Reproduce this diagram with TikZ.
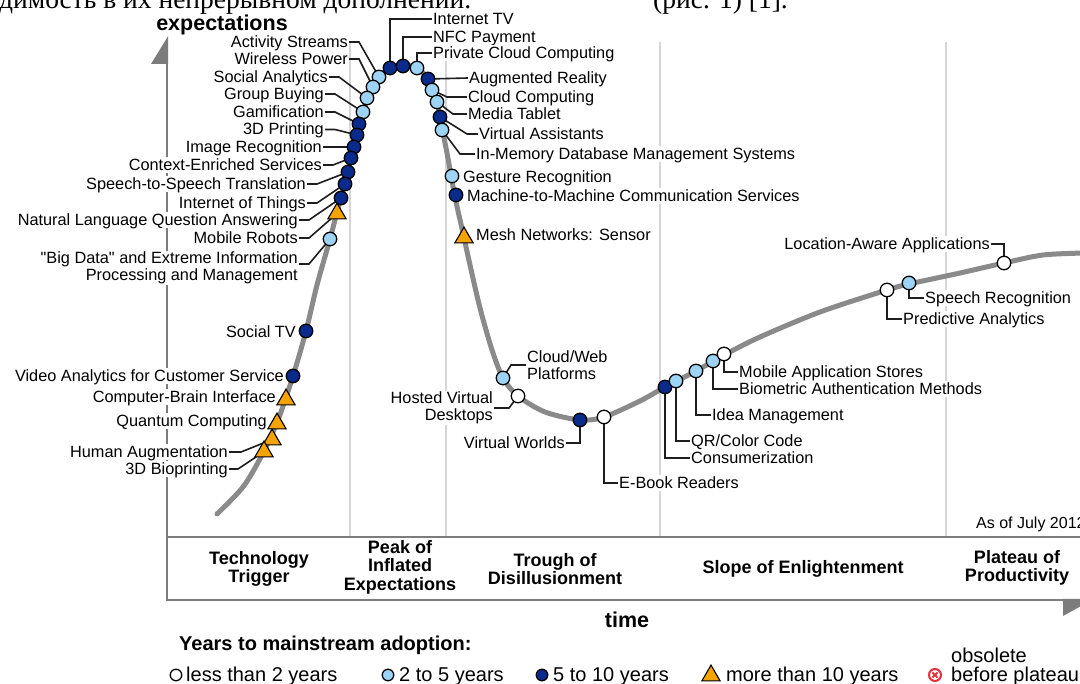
\documentclass[tikz,border=0pt]{standalone}
\usepackage{fontspec}
\setmainfont{Liberation Sans}
\newfontfamily\rufont{Liberation Serif}
\usetikzlibrary{shapes.geometric}
\definecolor{lblue}{HTML}{9DD4F5}
\definecolor{dblue}{HTML}{0B2B8C}
\definecolor{orng}{HTML}{F5A300}
\definecolor{obsred}{HTML}{E8303A}
\definecolor{curvec}{HTML}{8A8A8A}
\definecolor{axisc}{HTML}{7C7C7C}
\definecolor{sepc}{HTML}{D6D6D6}
\definecolor{leadc}{HTML}{1E1E1E}
\pgfdeclarelayer{back}
\pgfdeclarelayer{bg}
\pgfdeclarelayer{mid}
\pgfsetlayers{back,bg,mid,main}
\begin{document}
\begin{tikzpicture}[x=1pt,y=-1pt,
  lbl/.style={font=\fontsize{16.3}{17.5}\selectfont, inner sep=1pt, fill=white, text=black},
  lb/.style={lbl, text height=12pt, text depth=1.5pt},
  mk/.style={circle, draw=black, line width=1.3pt, minimum size=13.5pt, inner sep=0pt},
  mW/.style={mk, fill=white}, mL/.style={mk, fill=lblue}, mD/.style={mk, fill=dblue},
  mT/.style={regular polygon, regular polygon sides=3, draw=black, line width=1.1pt, fill=orng, minimum size=21pt, inner sep=0pt, yshift=-2.6pt},
  ldr/.style={draw=leadc, line width=1.6pt},
  phase/.style={font=\bfseries\fontsize{18}{18.5}\selectfont, align=center, inner sep=0pt},
  big/.style={font=\bfseries\fontsize{21.5}{24}\selectfont, inner sep=0pt},
  leg/.style={font=\fontsize{20}{22}\selectfont, inner sep=0pt, anchor=west, text height=14pt, text depth=2pt},
  sepline/.style={draw=sepc, line width=2.5pt},
  axisline/.style={draw=axisc, line width=2.5pt},
  hypecurve/.style={draw=curvec, line width=5pt, line cap=round, line join=round},
  rutext/.style={font=\rufont\fontsize{27.5}{30}\selectfont, inner sep=0pt, anchor=base west}
]
\useasboundingbox (0,0) rectangle (1080,684);
\begin{pgfonlayer}{back}
  \fill[white] (0,0) rectangle (1080,684);
\end{pgfonlayer}

% clipped caption fragment at the top
\node[rutext] (ru1) at (-1,9) {димость в их непрерывном дополнении.};
\node[rutext] (ru2) at (653,9) {(рис. 1) [1].};

\begin{pgfonlayer}{bg}
  \foreach \sx in {350,446,660,946} \draw[sepline] (\sx,42) -- (\sx,537);
  \draw[axisline] (167,62) -- (167,600) -- (1082,600);
  \draw[axisline] (167,537) -- (1082,537);
  \fill[axisc] (168.2,36) -- (168.2,64) -- (151,64) -- cycle;
  \fill[axisc] (1063,598.8) -- (1094,598.8) -- (1063,616) -- cycle;
  \draw[hypecurve] plot[smooth, tension=0.5] coordinates {
    (217,514) (243,487) (262,455) (278,420) (293,376) (306,331) (317,285)
    (330,239) (337,212) (345,183) (351,157) (357,135) (363,112) (369,95)
    (379,78) (390,68) (403,65) (417,68) (428,79) (437,102) (442,128)
    (447,153) (455,197) (463,233) (470,265) (480,308) (492,350) (503,378)
    (518,396) (545,412) (580,420) (604,417) (640,401) (665,387) (696,371)
    (724,355) (760,337) (820,312) (887,290) (909,284) (960,273) (1004,263)
    (1043,255) (1085,253)};
\end{pgfonlayer}

% axis titles and phases
\node[big] (yt) at (222,25) {expectations};
\node[big] (xt) at (627,620) {time};
\node[phase] (p1) at (259,569) {Technology\\Trigger};
\node[phase] (p2) at (400,567) {Peak of\\Inflated\\Expectations};
\node[phase] (p3) at (555,569) {Trough of\\Disillusionment};
\node[phase] (p4) at (803,569) {Slope of Enlightenment};
\node[phase] (p5) at (1017,568) {Plateau of\\Productivity};
\node[font=\fontsize{16}{18}\selectfont, inner sep=0pt, anchor=west] (asof) at (976,524) {As of July 2012};

% labels: left rising side
\node[lb, anchor=east] (a1) at (349,42) {Activity Streams};
\node[lb, anchor=east] (a2) at (349,59) {Wireless Power};
\node[lb, anchor=east] (a3) at (329,77) {Social Analytics};
\node[lb, anchor=east] (a4) at (325,94) {Group Buying};
\node[lb, anchor=east] (a5) at (325,112) {Gamification};
\node[lb, anchor=east] (a6) at (325,129.5) {3D Printing};
\node[lb, anchor=east] (a7) at (323,147) {Image Recognition};
\node[lb, anchor=east] (a8) at (323,165) {Context-Enriched Services};
\node[lb, anchor=east] (a9) at (307,184) {Speech-to-Speech Translation};
\node[lb, anchor=east] (a10) at (307,203) {Internet of Things};
\node[lb, anchor=east] (a11) at (299,220) {Natural Language Question Answering};
\node[lb, anchor=east] (a12) at (299,238) {Mobile Robots};
\node[lbl, anchor=east, align=right] (a13) at (299,268) {\textquotedbl Big Data\textquotedbl{} and Extreme Information\\Processing and Management};
\node[lb, anchor=east] (a37) at (297,332) {Social TV};
\node[lb, anchor=east] (a38) at (285,376) {Video Analytics for Customer Service};
\node[lb, anchor=east] (a39) at (277,397) {Computer-Brain Interface};
\node[lb, anchor=east] (a40) at (268,421) {Quantum Computing};
\node[lb, anchor=east] (a41) at (229,452) {Human Augmentation};
\node[lb, anchor=east] (a42) at (229,469) {3D Bioprinting};

% labels: peak and sliding side
\node[lb, anchor=west] (a14) at (432,19) {Internet TV};
\node[lb, anchor=west] (a15) at (432,37) {NFC Payment};
\node[lb, anchor=west] (a16) at (432,53) {Private Cloud Computing};
\node[lb, anchor=west] (a17) at (468,78) {Augmented Reality};
\node[lb, anchor=west] (a18) at (467,97) {Cloud Computing};
\node[lb, anchor=west] (a19) at (467,114) {Media Tablet};
\node[lb, anchor=west] (a20) at (478,134) {Virtual Assistants};
\node[lb, anchor=west] (a21) at (475,154) {In-Memory Database Management Systems};
\node[lb, anchor=west] (a22) at (462,177) {Gesture Recognition};
\node[lb, anchor=west] (a23) at (466,196) {Machine-to-Machine Communication Services};
\node[lb, anchor=west] (a24) at (475,235) {Mesh Networks: Sensor};

% labels: trough and slope
\node[lbl, anchor=west, align=left] (a25) at (526,365) {Cloud/Web\\Platforms};
\node[lbl, anchor=east, align=right] (a26) at (494,408) {Hosted Virtual\\Desktops};
\node[lb, anchor=east] (a27) at (566,443) {Virtual Worlds};
\node[lb, anchor=west] (a28) at (618,483) {E-Book Readers};
\node[lb, anchor=west] (a29) at (690,458) {Consumerization};
\node[lb, anchor=west] (a30) at (690,441) {QR/Color Code};
\node[lb, anchor=west] (a31) at (711,415) {Idea Management};
\node[lb, anchor=west] (a32) at (738,389) {Biometric Authentication Methods};
\node[lb, anchor=west] (a33) at (738,372) {Mobile Application Stores};
\node[lb, anchor=west] (a34) at (902,319) {Predictive Analytics};
\node[lb, anchor=west] (a35) at (924,298) {Speech Recognition};
\node[lb, anchor=east] (a36) at (991,244) {Location-Aware Applications};

% markers
\node[mL] (m1) at (379,77) {};
\node[mL] (m2) at (373,87) {};
\node[mL] (m3) at (367,98) {};
\node[mL] (m4) at (363,112) {};
\node[mD] (m5) at (359,124) {};
\node[mD] (m6) at (357,135) {};
\node[mD] (m7) at (354,147) {};
\node[mD] (m8) at (351,158) {};
\node[mD] (m9) at (348,172) {};
\node[mD] (m10) at (345,184) {};
\node[mD] (m11) at (341,198) {};
\node[mT] (m12) at (337,211) {};
\node[mL] (m13) at (330,239) {};
\node[mD] (m14) at (390,68) {};
\node[mD] (m15) at (403,66) {};
\node[mL] (m16) at (417,68) {};
\node[mD] (m17) at (428,79) {};
\node[mL] (m18) at (432,90) {};
\node[mL] (m19) at (437,102) {};
\node[mD] (m20) at (440,117) {};
\node[mL] (m21) at (442,130) {};
\node[mL] (m22) at (452,176) {};
\node[mD] (m23) at (456,195) {};
\node[mT] (m24) at (464,235) {};
\node[mL] (m25) at (503,378) {};
\node[mW] (m26) at (518,396) {};
\node[mD] (m27) at (580,420) {};
\node[mW] (m28) at (604,417) {};
\node[mD] (m29) at (665,387) {};
\node[mL] (m30) at (676,381) {};
\node[mL] (m31) at (696,371) {};
\node[mL] (m32) at (713,361) {};
\node[mW] (m33) at (724,354) {};
\node[mW] (m34) at (887,290) {};
\node[mL] (m35) at (909,283) {};
\node[mW] (m36) at (1004,263) {};
\node[mD] (m37) at (306,331) {};
\node[mD] (m38) at (293,376) {};
\node[mT] (m39) at (286,397) {};
\node[mT] (m40) at (277,421) {};
\node[mT] (m41) at (272,437) {};
\node[mT] (m42) at (264,449) {};

% leaders
\begin{pgfonlayer}{mid}
  \foreach \i in {1,...,12} \draw[ldr] (a\i.east) -- ++(10,0) -- (m\i.center);
  \draw[ldr] ([yshift=4pt]a13.east) -- ++(10,0) -- (m13.center);
  \draw[ldr] (m14.center) |- (a14.west);
  \draw[ldr] (m15.center) |- (a15.west);
  \draw[ldr] (m16.center) |- (a16.west);
  \draw[ldr] (m17.center) -- (a17.west);
  \draw[ldr] (m18.center) -- (447,97) -- (a18.west);
  \draw[ldr] (m19.center) -- (453,114) -- (a19.west);
  \draw[ldr] (m20.center) -- (467,134) -- (a20.west);
  \draw[ldr] (m21.center) -- (460,154) -- (a21.west);
  \draw[ldr] (m25.center) -- (511,365) -- (a25.west);
  \draw[ldr] (m26.center) -- (509,408) -- (a26.east);
  \draw[ldr] (m27.center) |- (a27.east);
  \draw[ldr] (m28.center) |- (a28.west);
  \draw[ldr] (m29.center) |- (a29.west);
  \draw[ldr] (m30.center) |- (a30.west);
  \draw[ldr] (m31.center) |- (a31.west);
  \draw[ldr] (m32.center) |- (a32.west);
  \draw[ldr] (m33.center) |- (a33.west);
  \draw[ldr] (m34.center) |- (a34.west);
  \draw[ldr] (m35.center) |- (a35.west);
  \draw[ldr] (m36.center) |- (a36.east);
  \draw[ldr] (a41.east) -- ++(12,0) -- (m41.center);
  \draw[ldr] (a42.east) -- ++(9,0) -- (m42.center);
\end{pgfonlayer}

% legend
\node[font=\bfseries\fontsize{20}{22}\selectfont, inner sep=0pt, anchor=west] (lgh) at (179,645) {Years to mainstream adoption:};
\node[mk, fill=white, minimum size=11.5pt] (k1) at (176,675) {};
\node[leg] (t1) at (186,675) {less than 2 years};
\node[mk, fill=lblue, minimum size=11.5pt] (k2) at (388,675) {};
\node[leg] (t2) at (399,675) {2 to 5 years};
\node[mk, fill=dblue, minimum size=11.5pt] (k3) at (542,675) {};
\node[leg] (t3) at (553,675) {5 to 10 years};
\node[mT] (k4) at (711,673) {};
\node[leg] (t4) at (726,675) {more than 10 years};
\node[circle, draw=obsred, line width=2pt, minimum size=12pt, inner sep=0pt] (k5) at (935,675) {};
\draw[obsred, line width=1.8pt] ([shift={(-2.6pt,-2.6pt)}]k5.center) -- ([shift={(2.6pt,2.6pt)}]k5.center)
  ([shift={(-2.6pt,2.6pt)}]k5.center) -- ([shift={(2.6pt,-2.6pt)}]k5.center);
\node[leg] (t5a) at (951,656) {obsolete};
\node[leg] (t5b) at (951,675) {before plateau};
\end{tikzpicture}
\end{document}
